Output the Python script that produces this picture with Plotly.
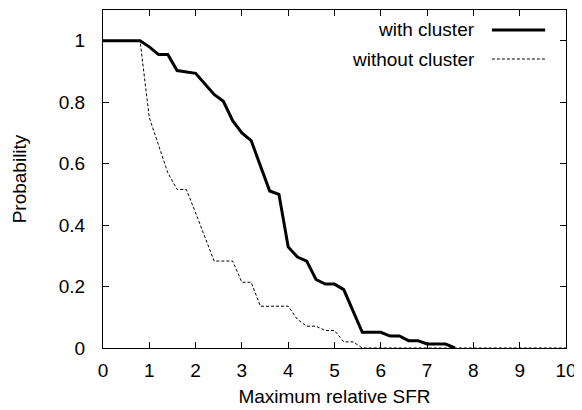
import plotly.graph_objects as go

# Data
with_x = [0, 0.8, 1.0, 1.2, 1.4, 1.6, 2.0, 2.4, 2.6, 2.8, 3.0, 3.2, 3.6, 3.8, 4.0,
          4.2, 4.4, 4.6, 4.8, 5.0, 5.2, 5.6, 6.0, 6.2, 6.4, 6.6, 6.8, 7.0, 7.4, 7.6]
with_y = [1, 1, 0.98, 0.955, 0.955, 0.903, 0.894, 0.825, 0.803, 0.74, 0.70, 0.675,
          0.511, 0.50, 0.329, 0.296, 0.283, 0.223, 0.208, 0.208, 0.19, 0.051, 0.051,
          0.039, 0.039, 0.024, 0.024, 0.013, 0.013, 0]

without_x = [0, 0.8, 1.0, 1.2, 1.4, 1.6, 1.8, 2.0, 2.2, 2.4, 2.8, 3.0, 3.2, 3.4, 4.0,
             4.2, 4.4, 4.6, 4.8, 5.0, 5.2, 5.4, 5.6, 10]
without_y = [1, 1, 0.75, 0.66, 0.57, 0.516, 0.516, 0.44, 0.36, 0.283, 0.283, 0.214,
             0.214, 0.136, 0.136, 0.093, 0.071, 0.071, 0.057, 0.057, 0.02, 0.02, 0, 0]

x_ticks = list(range(0, 11))
y_ticks = [0, 0.2, 0.4, 0.6, 0.8, 1.0]
y_ticktext = ["0", "0.2", "0.4", "0.6", "0.8", "1"]

series_names = ["with cluster", "without cluster"]

FONT = "Liberation Sans, Arial, Helvetica, sans-serif"
FS = 19

fig = go.Figure()
fig.add_trace(go.Scatter(x=with_x, y=with_y, mode="lines", name=series_names[0],
                         line=dict(color="black", width=3), showlegend=False))
fig.add_trace(go.Scatter(x=without_x, y=without_y, mode="lines", name=series_names[1],
                         line=dict(color="black", width=1, dash="3px,2px"),
                         showlegend=False))

axis_common = dict(
    showgrid=False, zeroline=False, showline=True, linecolor="black", linewidth=1,
    mirror="ticks", ticks="inside", ticklen=6, tickcolor="black", tickwidth=1,
    tickfont=dict(family=FONT, size=FS, color="black"),
)

fig.update_xaxes(range=[0, 10], tickvals=x_ticks, ticklabelstandoff=5,
                 title=dict(text="Maximum relative SFR", standoff=9,
                            font=dict(family=FONT, size=FS, color="black")),
                 **axis_common)
fig.update_yaxes(range=[0, 1.1], tickvals=y_ticks, ticktext=y_ticktext,
                 ticklabelstandoff=13,
                 title=dict(text="Probability", standoff=27,
                            font=dict(family=FONT, size=FS, color="black")),
                 **axis_common)

# gnuplot-style key: text right-aligned, line sample to the right
key_rows = [(0.941, dict(color="black", width=3)),
            (0.855, dict(color="black", width=1, dash="3px,2px"))]
for name, (ky, lstyle) in zip(series_names, key_rows):
    fig.add_annotation(x=0.808, y=ky, xref="paper", yref="paper", text=name,
                       showarrow=False, xanchor="right", yanchor="middle",
                       font=dict(family=FONT, size=FS, color="black"))
    fig.add_shape(type="line", xref="paper", yref="paper", x0=0.840, x1=0.955,
                  y0=ky, y1=ky, line=lstyle)

# page body adds an 8px offset, so the figure is 8px smaller than the window
fig.update_layout(
    width=574, height=402,
    margin=dict(l=95, r=16, t=2, b=62, autoexpand=False),
    paper_bgcolor="white", plot_bgcolor="white",
    font=dict(family=FONT, size=FS, color="black"),
)

fig.write_html("out.html")
